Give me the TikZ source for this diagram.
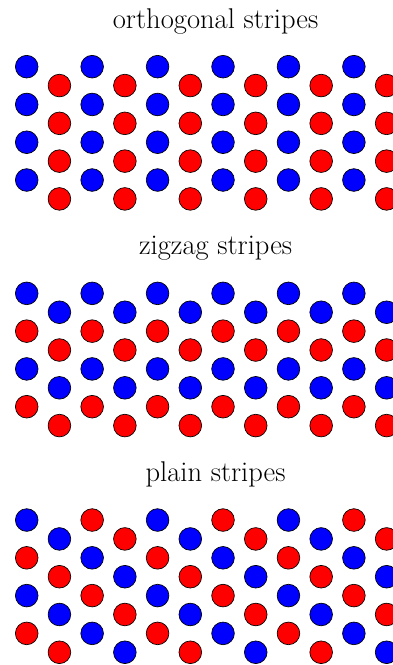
\documentclass[tikz,border=0pt]{standalone}
\definecolor{ballblue}{HTML}{0000FF}
\definecolor{ballred}{HTML}{FF0000}
\usepackage{tikz}

\begin{document}
\begin{tikzpicture}[every node/.style={font={\fontsize{21.5}{26}\selectfont}},
      ball/.style={circle,draw=black,line width=0.5pt,inner sep=0pt,minimum size=6mm},
      blueball/.style={ball,fill=ballblue},
      redball/.style={ball,fill=ballred},
      title/.style={anchor=base}]
    \clip (-0.707,1.765) rectangle (9.695,-15.837);
    \node[title] (orth) at (5,1.02) {orthogonal stripes};
    \node[title] (zig) at (5,-4.98) {zigzag stripes};
    \node[title] (plain) at (5,-10.98) {plain stripes};
    \foreach \c in {0,...,11}
      \foreach \r in {0,...,3} {
        \pgfmathtruncatemacro{\shift}{mod(\c,2)}
        \pgfmathtruncatemacro{\zigodd}{mod(\r,2)}
        \pgfmathtruncatemacro{\plainodd}{mod(\r+floor(\c/2),2)}
        \ifnum\shift=0 \def\orthstyle{blueball}\else\def\orthstyle{redball}\fi
        \ifnum\zigodd=0 \def\zigstyle{blueball}\else\def\zigstyle{redball}\fi
        \ifnum\plainodd=0 \def\plainstyle{blueball}\else\def\plainstyle{redball}\fi
        \node[\orthstyle] (orth-\c-\r) at ({0.866*\c},{-\r-0.5*\shift}) {};
        \node[\zigstyle] (zig-\c-\r) at ({0.866*\c},{-6-\r-0.5*\shift}) {};
        \node[\plainstyle] (plain-\c-\r) at ({0.866*\c},{-12-\r-0.5*\shift}) {};
      }
  \end{tikzpicture}
\end{document}
